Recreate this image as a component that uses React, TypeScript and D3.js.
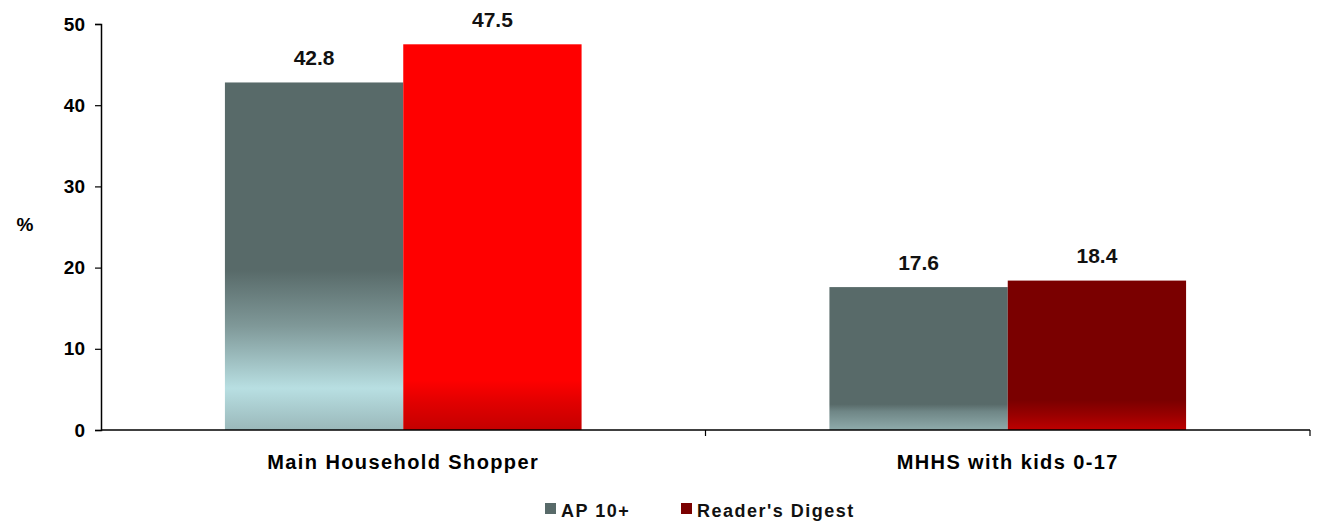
import { useEffect, useRef } from "react";
import * as d3 from "d3";

const categories = ["Main Household Shopper", "MHHS with kids 0-17"];
const seriesNames = ["AP 10+", "Reader's Digest"];
const apValues = [42.8, 17.6];
const rdValues = [47.5, 18.4];
const yTicks = [0, 10, 20, 30, 40, 50];
const legendColors = ["#586a69", "#7a0000"];

// gradient stops per bar, offset top->bottom
const barGradients: [number, string][][][] = [
	[
		[[0, "#586a69"], [0.54, "#586a69"], [0.7, "#7f9898"], [0.88, "#b8dfe2"], [1, "#9ab8ba"]],
		[[0, "#ff0000"], [0.87, "#ff0000"], [0.93, "#e00000"], [1, "#c40000"]],
	],
	[
		[[0, "#586a69"], [0.82, "#586a69"], [0.87, "#6f8686"], [1, "#8fabab"]],
		[[0, "#7a0000"], [0.8, "#7a0000"], [0.9, "#990000"], [1, "#be0000"]],
	],
];

export default function App() {
	const ref = useRef<SVGSVGElement>(null);

	useEffect(() => {
		const svg = d3.select(ref.current);
		svg.selectAll("*").remove();

		const font = "'Liberation Sans', Arial, sans-serif";
		const left = 101, right = 1310, top = 24, bottom = 430;

		const x = d3.scaleBand<string>()
			.domain(categories)
			.range([left, right])
			.paddingInner(0.41)
			.paddingOuter(0.205);

		const y = d3.scaleLinear().domain([0, 50]).range([bottom, top]);

		const defs = svg.append("defs");
		barGradients.forEach((group, gi) => {
			group.forEach((stops, si) => {
				const lg = defs.append("linearGradient")
					.attr("id", `grad-${gi}-${si}`)
					.attr("x1", 0).attr("y1", 0).attr("x2", 0).attr("y2", 1);
				stops.forEach(([o, c]) => {
					lg.append("stop").attr("offset", o).attr("stop-color", c);
				});
			});
		});

		// Bars + value labels
		const bw = x.bandwidth() / 2;
		categories.forEach((cat, i) => {
			const vals = [apValues[i], rdValues[i]];
			vals.forEach((v, s) => {
				const bx = x(cat)! + s * bw;
				svg.append("rect")
					.attr("x", bx)
					.attr("y", y(v))
					.attr("width", bw)
					.attr("height", y(0) - y(v))
					.attr("fill", `url(#grad-${i}-${s})`);

				svg.append("text")
					.attr("x", bx + bw / 2)
					.attr("y", y(v) - 17.5)
					.attr("text-anchor", "middle")
					.attr("font-family", font)
					.attr("font-weight", "bold")
					.attr("font-size", "21px")
					.attr("fill", "#111")
					.text(v.toFixed(1));
			});
		});

		// Y axis
		const yAxis = svg.append("g")
			.attr("transform", `translate(${left},0)`)
			.call(d3.axisLeft(y).tickValues(yTicks).tickSize(6).tickPadding(10).tickFormat(d3.format("d")));
		yAxis.select(".domain").attr("stroke", "#000").attr("stroke-width", 1.5);
		yAxis.selectAll(".tick line").attr("stroke", "#000").attr("stroke-width", 1.2);
		yAxis.selectAll(".tick text")
			.attr("font-family", font)
			.attr("font-weight", "bold")
			.attr("font-size", "19px")
			.attr("fill", "#000");

		// X axis
		svg.append("line")
			.attr("x1", left).attr("x2", right)
			.attr("y1", bottom).attr("y2", bottom)
			.attr("stroke", "#000").attr("stroke-width", 1.5);
		const step = x.step();
		[left + step, right].forEach(tx => {
			svg.append("line")
				.attr("x1", tx).attr("x2", tx)
				.attr("y1", bottom).attr("y2", bottom + 6)
				.attr("stroke", "#000").attr("stroke-width", 1.2);
		});

		categories.forEach(cat => {
			svg.append("text")
				.attr("x", x(cat)! + x.bandwidth() / 2)
				.attr("y", 469)
				.attr("text-anchor", "middle")
				.attr("font-family", font)
				.attr("font-weight", "bold")
				.attr("font-size", "20px")
				.attr("letter-spacing", "1.4px")
				.attr("fill", "#000")
				.text(cat);
		});

		// Y label
		svg.append("text")
			.attr("x", 25)
			.attr("y", 231)
			.attr("text-anchor", "middle")
			.attr("font-family", font)
			.attr("font-weight", "bold")
			.attr("font-size", "19px")
			.text("%");

		// Legend
		const legendX = [545, 681];
		seriesNames.forEach((name, i) => {
			svg.append("rect")
				.attr("x", legendX[i])
				.attr("y", 503)
				.attr("width", 11)
				.attr("height", 11)
				.attr("fill", legendColors[i]);
			svg.append("text")
				.attr("x", legendX[i] + 16)
				.attr("y", 517)
				.attr("font-family", font)
				.attr("font-weight", "bold")
				.attr("font-size", "18px")
				.attr("letter-spacing", "1.5px")
				.attr("fill", "#111")
				.text(name);
		});
	}, []);

	return (
		<svg
			ref={ref}
			width={1317}
			height={521}
			style={{ position: "absolute", left: 0, top: 0, background: "#fff" }}
		/>
	);
}
